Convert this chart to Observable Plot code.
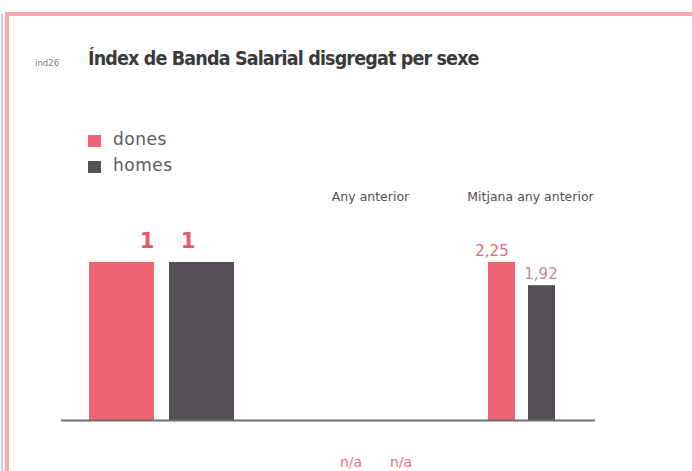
<!DOCTYPE html>
<html>
<head>
<meta charset="utf-8">
<script src="https://cdn.jsdelivr.net/npm/d3@7"></script>
<script src="https://cdn.jsdelivr.net/npm/@observablehq/plot@0.6"></script>
<style>
  html, body { margin: 0; padding: 0; background: #ffffff; }
  #page { position: relative; width: 692px; height: 471px; overflow: hidden; background: #fdfdfe; }
  #panel { position: absolute; left: 5px; top: 12px; width: 690px; height: 470px; background: #ffffff;
           border-top: 4px solid #f3aab3; border-left: 4px solid #f3aab3; box-sizing: border-box; }
  #grayline { position: absolute; left: 1px; top: 14px; width: 2px; height: 460px; background: #cfcfcf; }
  .abs { position: absolute; white-space: nowrap; }
  #code { left: 35px; top: 57px; font: 9.5px "DejaVu Sans Condensed", "DejaVu Sans", sans-serif; color: #7a7a7a; }
  #title { left: 88px; top: 47px; font: bold 19.5px "DejaVu Sans Condensed", "DejaVu Sans", sans-serif; color: #3a3a3c; letter-spacing: -0.85px; }
  .sw { position: absolute; width: 13px; height: 12px; }
  .lg { position: absolute; font: 17px "DejaVu Sans", sans-serif; color: #5a5a5c; letter-spacing: 0.5px; }
  .plot { position: absolute; top: 180px; }
</style>
</head>
<body>
<div id="page">
  <div id="grayline"></div>
  <div id="panel"></div>
  <div id="code" class="abs">ind26</div>
  <div id="title" class="abs">Índex de Banda Salarial disgregat per sexe</div>
  <div class="sw" style="left:88px;top:135px;background:#ef6474"></div>
  <div class="lg" style="left:113px;top:129px">dones</div>
  <div class="sw" style="left:88px;top:161px;background:#545055"></div>
  <div class="lg" style="left:113px;top:155px">homes</div>
  <div id="g0" class="plot" style="left:61px"></div>
  <div id="g1" class="plot" style="left:261px"></div>
  <div id="g2" class="plot" style="left:461px"></div>
</div>
<script>
// Data
const groups = ["", "Any anterior", "Mitjana any anterior"];
const sexes = ["dones", "homes"];
const donesValues = [1, null, 2.25];
const homesValues = [1, null, 1.92];
const colors = { dones: "#ef6474", homes: "#545055" };

const fmt = v => v == null ? "n/a" : String(v).replace(".", ",");

// Per-group layout/style
const layouts = [
  { width: 200, insetLeft: 27, insetRight: 26, paddingInner: 0.185, labelDx: [25, -14], labelDy: [-21, -21],
    font: { fontSize: 21, fontWeight: "bold" }, labelFill: ["#e8586b", "#e8586b"], titleDx: 0 },
  { width: 200, insetLeft: 76, insetRight: 48, paddingInner: 0.5, labelDx: [0, 0], labelDy: [42, 42],
    font: { fontSize: 14, fontWeight: "normal" }, labelFill: ["#e8727f", "#e8727f"], titleDx: 9 },
  { width: 134, insetLeft: 27, insetRight: 40, paddingInner: 0.325, labelDx: [-10, -1], labelDy: [-11, -11],
    font: { fontSize: 15, fontWeight: "normal" }, labelFill: ["#e0697a", "#c98692"], titleDx: 2 }
];

groups.forEach((g, i) => {
  const L = layouts[i];
  const rows = sexes.map((s, j) => ({
    sexe: s,
    value: (j === 0 ? donesValues : homesValues)[i],
    label: fmt((j === 0 ? donesValues : homesValues)[i]),
    dx: L.labelDx[j], dy: L.labelDy[j], fill: L.labelFill[j]
  }));
  const present = rows.filter(r => r.value != null);
  const max = present.length ? d3.max(present, r => r.value) : 1;
  const marks = [
    Plot.barY(present, { x: "sexe", y: "value", fill: d => colors[d.sexe] }),
    Plot.ruleY([0], { stroke: "#6d6d6f", strokeWidth: 2 })
  ];
  rows.forEach(r => {
    marks.push(Plot.text([r], {
      x: "sexe", y: d => d.value == null ? 0 : d.value, text: "label",
      dx: r.dx, dy: r.dy, fill: r.fill,
      fontSize: L.font.fontSize, fontWeight: L.font.fontWeight,
      fontFamily: "DejaVu Sans, sans-serif"
    }));
  });
  if (g) {
    marks.push(Plot.text([g], {
      frameAnchor: "top", dx: L.titleDx, dy: -70, fill: "#505052",
      fontSize: 12.5, fontFamily: "DejaVu Sans, sans-serif"
    }));
  }
  const chart = Plot.plot({
    width: L.width, height: 291,
    marginLeft: 0, marginRight: 0, marginTop: 82, marginBottom: 51,
    style: { background: "transparent", overflow: "visible" },
    x: { domain: sexes, axis: null, insetLeft: L.insetLeft, insetRight: L.insetRight,
         paddingInner: L.paddingInner, paddingOuter: 0 },
    y: { domain: [0, max], axis: null },
    marks
  });
  document.getElementById("g" + i).appendChild(chart);
});
</script>
</body>
</html>
